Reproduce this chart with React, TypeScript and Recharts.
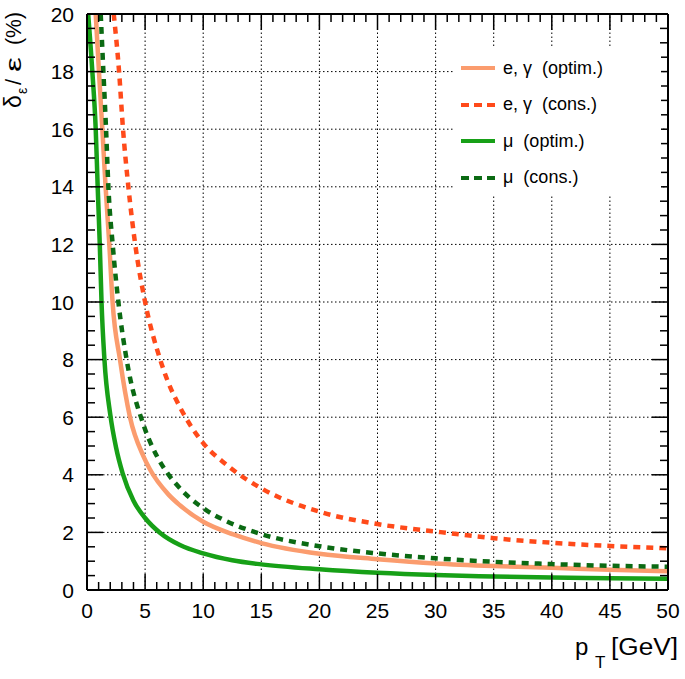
import React from 'react';
import { LineChart, Line, XAxis, YAxis, ReferenceLine, Legend } from 'recharts';

// curves: pT (GeV) and relative uncertainty (%)
const egOptX = [0.75, 1.03, 1.32, 1.6, 1.92, 2.2, 2.84, 3.7, 4.85, 5.4, 7, 8, 10, 12.6, 15, 20, 25, 30, 35, 40, 45, 50];
const egOptY = [20, 18, 16, 14, 12, 10, 8, 6, 4.65, 4.2, 3.32, 2.94, 2.37, 1.93, 1.63, 1.26, 1.07, 0.92, 0.83, 0.77, 0.7, 0.65];

const egConsX = [2.3, 2.76, 3.1, 3.56, 4.15, 5.0, 6.3, 7, 8, 10, 12, 15, 20, 25, 30, 35, 40, 45, 50];
const egConsY = [20, 18, 16, 14, 12, 10, 8, 7.2, 6.35, 5.1, 4.35, 3.53, 2.72, 2.29, 2.03, 1.8, 1.64, 1.53, 1.45];

const muOptX = [0.1, 0.46, 0.75, 0.92, 1.1, 1.25, 1.5, 2.0, 2.5, 3.07, 4, 5, 6.3, 8, 10, 12.5, 15, 20, 25, 30, 35, 40, 45, 50];
const muOptY = [20, 18, 16, 14, 12, 10, 8, 6.1, 4.95, 4.05, 3.1, 2.5, 1.98, 1.56, 1.27, 1.03, 0.89, 0.72, 0.6, 0.52, 0.47, 0.43, 0.41, 0.39];

const muConsX = [1.18, 1.41, 1.64, 1.84, 2.21, 2.7, 3.41, 4.85, 6, 6.9, 8, 10, 12, 14.6, 20, 25, 30, 35, 40, 45, 50];
const muConsY = [20, 18, 16, 14, 12, 10, 8, 5.75, 4.66, 4.07, 3.53, 2.84, 2.39, 1.99, 1.52, 1.27, 1.1, 0.98, 0.9, 0.84, 0.81];

const xMajor = [0, 5, 10, 15, 20, 25, 30, 35, 40, 45, 50];
const yMajor = [0, 2, 4, 6, 8, 10, 12, 14, 16, 18, 20];
const xMinor = Array.from({ length: 51 }, (_, i) => i);
const yMinor = Array.from({ length: 41 }, (_, i) => i * 0.5);

const FONT = '"Liberation Sans", Arial, Helvetica, sans-serif';

const toPoints = (xs: number[], ys: number[]) => xs.map((x, i) => ({ x, y: ys[i] }));

const series = [
  { name: 'e, γ  (optim.)', data: toPoints(egOptX, egOptY), color: '#FB9C6E', dash: undefined as string | undefined },
  { name: 'e, γ  (cons.)', data: toPoints(egConsX, egConsY), color: '#FF4A1A', dash: '7 6' },
  { name: 'μ  (optim.)', data: toPoints(muOptX, muOptY), color: '#17A017', dash: undefined as string | undefined },
  { name: 'μ  (cons.)', data: toPoints(muConsX, muConsY), color: '#0B6A13', dash: '7 6' },
];

const isMajor = (v: number, step: number) => Math.abs(v / step - Math.round(v / step)) < 1e-6;

const BottomTick = ({ x, y, payload }: any) => {
  const major = isMajor(payload.value, 5);
  return (
    <g>
      <line x1={x} x2={x} y1={y} y2={y - (major ? 16 : 8)} stroke="#000" strokeWidth={1.5} />
      {major && (
        <text x={x} y={y + 28} textAnchor="middle" fontSize={21} fontFamily={FONT} fill="#000">
          {payload.value}
        </text>
      )}
    </g>
  );
};

const TopTick = ({ x, y, payload }: any) => {
  const major = isMajor(payload.value, 5);
  return <line x1={x} x2={x} y1={y} y2={y + (major ? 16 : 8)} stroke="#000" strokeWidth={1.5} />;
};

const LeftTick = ({ x, y, payload }: any) => {
  const major = isMajor(payload.value, 2);
  return (
    <g>
      <line x1={x} x2={x + (major ? 16 : 8)} y1={y} y2={y} stroke="#000" strokeWidth={1.5} />
      {major && (
        <text x={x - 13} y={y + 7.5} textAnchor="end" fontSize={21} fontFamily={FONT} fill="#000">
          {payload.value}
        </text>
      )}
    </g>
  );
};

const RightTick = ({ x, y, payload }: any) => {
  const major = isMajor(payload.value, 2);
  return <line x1={x} x2={x - (major ? 16 : 8)} y1={y} y2={y} stroke="#000" strokeWidth={1.5} />;
};

const LegendBox = () => (
  <div style={{ background: '#fff', width: 208, height: 146, paddingTop: 2, boxSizing: 'border-box' }}>
    {series.map((s) => (
      <div key={s.name} style={{ display: 'flex', alignItems: 'center', height: 36.5, fontFamily: FONT, fontSize: 18, color: '#000' }}>
        <svg width={42} height={10} style={{ marginLeft: 8 }}>
          <line x1={0} x2={34} y1={5} y2={5} stroke={s.color} strokeWidth={4} strokeDasharray={s.dash ? '8 5' : undefined} />
        </svg>
        <span style={{ whiteSpace: 'pre' }}>{s.name}</span>
      </div>
    ))}
  </div>
);

export default function App() {
  return (
    <div style={{ position: 'absolute', left: 0, top: 0, width: 685, height: 679, background: '#fff' }}>
      <LineChart width={685} height={679} margin={{ top: 0, right: 0, bottom: 0, left: 0 }}>
        <XAxis
          xAxisId="b"
          dataKey="x"
          type="number"
          orientation="bottom"
          domain={[0, 50]}
          allowDataOverflow
          ticks={xMinor}
          interval={0}
          height={89}
          tickSize={0}
          tickMargin={0}
          tick={BottomTick}
          axisLine={{ stroke: '#000', strokeWidth: 2 }}
        />
        <XAxis
          xAxisId="t"
          dataKey="x"
          type="number"
          orientation="top"
          domain={[0, 50]}
          allowDataOverflow
          ticks={xMinor}
          interval={0}
          height={14}
          tickSize={0}
          tickMargin={0}
          tick={TopTick}
          axisLine={{ stroke: '#000', strokeWidth: 2 }}
        />
        <YAxis
          yAxisId="l"
          type="number"
          orientation="left"
          domain={[0, 20]}
          allowDataOverflow
          ticks={yMinor}
          interval={0}
          width={87}
          tickSize={0}
          tickMargin={0}
          tick={LeftTick}
          axisLine={{ stroke: '#000', strokeWidth: 2 }}
        />
        <YAxis
          yAxisId="r"
          type="number"
          orientation="right"
          domain={[0, 20]}
          allowDataOverflow
          ticks={yMinor}
          interval={0}
          width={17}
          tickSize={0}
          tickMargin={0}
          tick={RightTick}
          axisLine={{ stroke: '#000', strokeWidth: 2 }}
        />
        {xMajor.slice(1, -1).map((v) => (
          <ReferenceLine key={'gx' + v} xAxisId="b" yAxisId="l" x={v} stroke="#000" strokeWidth={1} strokeDasharray="1.5 2.5" />
        ))}
        {yMajor.slice(1, -1).map((v) => (
          <ReferenceLine key={'gy' + v} xAxisId="b" yAxisId="l" y={v} stroke="#000" strokeWidth={1} strokeDasharray="1.5 2.5" />
        ))}
        {series.map((s) => (
          <Line
            key={s.name}
            xAxisId="b"
            yAxisId="l"
            data={s.data}
            dataKey="y"
            name={s.name}
            type="monotone"
            stroke={s.color}
            strokeWidth={4.5}
            strokeDasharray={s.dash}
            dot={false}
            activeDot={false}
            isAnimationActive={false}
          />
        ))}
        <Legend
          layout="horizontal"
          verticalAlign="middle"
          align="center"
          content={LegendBox}
          wrapperStyle={{ left: 453, top: 48, width: 208, height: 146 }}
        />
        {/* y title, rotated; x here runs upward along the screen */}
        <text transform="rotate(-90)" y={21} fontFamily={FONT} fill="#000">
          <tspan x={-108} fontSize={23}>δ</tspan>
          <tspan x={-94} dy={6} fontSize={14}>ε</tspan>
          <tspan x={-85} dy={-6} fontSize={22}>/</tspan>
          <tspan x={-72} fontSize={22} textLength={15} lengthAdjust="spacingAndGlyphs">ε</tspan>
          <tspan x={-45} fontSize={22} textLength={33} lengthAdjust="spacingAndGlyphs">(%)</tspan>
        </text>
        <text y={655} fontFamily={FONT} fill="#000">
          <tspan x={575} fontSize={24}>p</tspan>
          <tspan x={595} dy={13} fontSize={17}>T</tspan>
          <tspan x={611} dy={-13} fontSize={23} textLength={67} lengthAdjust="spacingAndGlyphs">[GeV]</tspan>
        </text>
      </LineChart>
    </div>
  );
}
